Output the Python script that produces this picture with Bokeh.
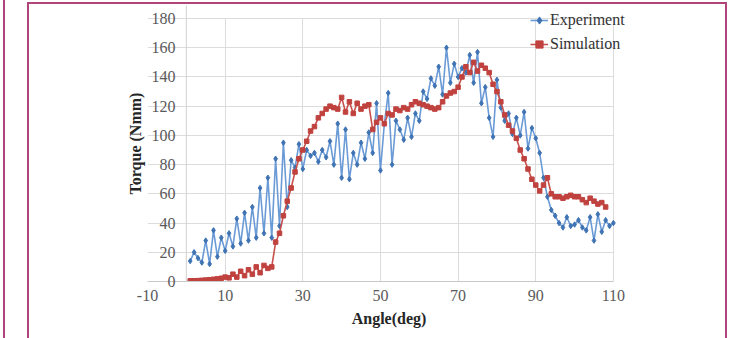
from bokeh.plotting import figure
from bokeh.models import (Range1d, FixedTicker, InlineStyleSheet, Span, Legend, LegendItem,
                          BoxAnnotation)
from bokeh.embed import file_html
from bokeh.resources import INLINE

# ---- data ----
exp_angle = [1, 2, 3, 4, 5, 6, 7, 8, 9, 10, 11, 12, 13, 14, 15, 16, 17, 18, 19, 20,
             21, 22, 23, 24, 25, 26, 27, 28, 29, 30, 31, 32, 33, 34, 35, 36, 37, 38, 39, 40,
             41, 42, 43, 44, 45, 46, 47, 48, 49, 50, 51, 52, 53, 54, 55, 56, 57, 58, 59, 60,
             61, 62, 63, 64, 65, 66, 67, 68, 69, 70, 71, 72, 73, 74, 75, 76, 77, 78, 79, 80,
             81, 82, 83, 84, 85, 86, 87, 88, 89, 90, 91, 92, 93, 94, 95, 96, 97, 98, 99, 100,
             101, 102, 103, 104, 105, 106, 107, 108, 109, 110]
exp_torque = [14, 20, 16, 13, 28, 12, 35, 17, 30, 21, 33, 24, 43, 26, 47, 28, 51, 30, 64, 33,
              71, 30, 84, 38, 95, 51, 83, 78, 94, 77, 90, 86, 88, 82, 90, 85, 96, 80, 108, 71,
              104, 70, 88, 80, 95, 84, 102, 88, 122, 76, 108, 129, 80, 110, 104, 97, 112, 99, 115, 110,
              130, 125, 139, 134, 147, 128, 160, 136, 149, 140, 146, 143, 155, 136, 157, 122, 133, 112, 99, 138,
              119, 110, 115, 101, 112, 100, 116, 91, 105, 98, 88, 71, 58, 49, 45, 40, 37, 44, 38, 39,
              42, 37, 35, 44, 28, 46, 34, 42, 38, 40]

sim_angle = [1, 2, 3, 4, 5, 6, 7, 8, 9, 10, 11, 12, 13, 14, 15, 16, 17, 18, 19, 20,
             21, 22, 23, 24, 25, 26, 27, 28, 29, 30, 31, 32, 33, 34, 35, 36, 37, 38, 39, 40,
             41, 42, 43, 44, 45, 46, 47, 48, 49, 50, 51, 52, 53, 54, 55, 56, 57, 58, 59, 60,
             61, 62, 63, 64, 65, 66, 67, 68, 69, 70, 71, 72, 73, 74, 75, 76, 77, 78, 79, 80,
             81, 82, 83, 84, 85, 86, 87, 88, 89, 90, 91, 92, 93, 94, 95, 96, 97, 98, 99, 100,
             101, 102, 103, 104, 105, 106, 107, 108]
sim_torque = [0.5, 0.5, 0.6, 0.8, 1.0, 1.2, 1.5, 1.8, 2.2, 3, 2.5, 5, 3, 7, 4, 8, 5, 10, 6, 11,
              9, 10, 27, 33, 45, 55, 64, 75, 84, 90, 96, 103, 106, 112, 115, 118, 120, 119, 118, 126,
              116, 123, 115, 122, 118, 120, 121, 104, 109, 112, 108, 115, 114, 118, 117, 119, 118, 121, 123, 122,
              121, 120, 119, 118, 119, 123, 127, 129, 130, 133, 140, 147, 143, 150, 144, 148, 146, 143, 135, 130,
              123, 114, 107, 103, 98, 90, 84, 77, 70, 66, 62, 66, 71, 60, 58, 58, 57, 58, 59, 58,
              58, 56, 54, 57, 55, 53, 54, 51]

x_ticks = [-10, 10, 30, 50, 70, 90, 110]
y_ticks = [0, 20, 40, 60, 80, 100, 120, 140, 160, 180]

SERIF = "Liberation Serif"
BLUE_LINE = "#6b9bd6"
BLUE_MARK = "#3f73b3"
RED_LINE = "#c8504c"
RED_MARK = "#c0423f"

css = InlineStyleSheet(css="""
:host { position: relative; }
:host::before { content: ''; position: absolute; left: 3px; top: 0px; width: 0px; height: 338px;
  border-left: 2px solid #b0457b; z-index: 10; pointer-events: none; }
:host::after { content: ''; position: absolute; left: 27px; top: 2px; width: 700px; height: 336px;
  border: 2px solid #b0457b; border-bottom: none; box-sizing: border-box; z-index: 10; pointer-events: none; }
""")

# the frame reaches a little past x = 110 and y = 180 so that the legend (which
# overhangs the plot area in the original) is not clipped; that strip is masked white
p = figure(width=734, height=338, output_backend="svg", toolbar_location=None,
           x_range=Range1d(-10, 114.4), y_range=Range1d(0, 188.9),
           min_border_left=147, min_border_right=104, min_border_top=5, min_border_bottom=57,
           background_fill_color="white", border_fill_color="white",
           stylesheets=[css])

p.outline_line_color = None

p.xaxis.ticker = FixedTicker(ticks=x_ticks)
p.yaxis.ticker = FixedTicker(ticks=y_ticks)
p.xgrid.ticker = FixedTicker(ticks=x_ticks)
p.ygrid.ticker = FixedTicker(ticks=y_ticks)
p.grid.grid_line_color = "#dcdcdc"
p.grid.grid_line_width = 1
p.xaxis.major_label_overrides = {-10: "-10"}
p.xaxis.bounds = (-10, 110)
p.yaxis.bounds = (0, 180)

for ax in (p.xaxis[0], p.yaxis[0]):
    ax.axis_line_color = "#c8c8c8"
    ax.major_tick_line_color = "#c8c8c8"
    ax.major_tick_out = 0
    ax.major_tick_in = 0
    ax.minor_tick_line_color = None
    ax.major_label_text_font = SERIF
    ax.major_label_text_font_size = "16px"
    ax.major_label_text_color = "#5a5a5a"
    ax.axis_label_text_font = SERIF
    ax.axis_label_text_font_size = "16px"
    ax.axis_label_text_font_style = "bold"
    ax.axis_label_text_color = "#262626"

# y axis labels sit inside the plot area, just left of x = 0
p.yaxis.axis_line_color = None
p.yaxis.major_tick_line_color = None
p.yaxis.major_label_standoff = -28
p.yaxis.axis_label_standoff = 5
p.add_layout(Span(location=0, dimension="height", line_color="#d0d0d0", line_width=1))

# mask grid lines beyond x = 110 and above y = 180
p.add_layout(BoxAnnotation(left=110.2, fill_color="white", fill_alpha=1.0,
                           line_color=None, level="underlay"))
p.add_layout(BoxAnnotation(bottom=180.3, fill_color="white", fill_alpha=1.0,
                           line_color=None, level="underlay"))

p.xaxis.axis_label = "Angle(deg)"
p.yaxis.axis_label = "Torque (Nmm)"
p.xaxis.major_label_standoff = 8
p.xaxis.axis_label_standoff = 6

r1 = p.line(exp_angle, exp_torque, line_color=BLUE_LINE, line_width=1.6)
s1 = p.scatter(exp_angle, exp_torque, marker="diamond", size=5.5, fill_color=BLUE_MARK,
               line_color=BLUE_MARK)
r2 = p.line(sim_angle, sim_torque, line_color=RED_LINE, line_width=1.6)
s2 = p.scatter(sim_angle, sim_torque, marker="square", size=4.5, fill_color=RED_MARK,
               line_color=RED_MARK)

lg = Legend(items=[LegendItem(label="Experiment", renderers=[r1, s1]),
                   LegendItem(label="Simulation", renderers=[r2, s2])],
            location=(383, 227))
lg.background_fill_alpha = 0
lg.border_line_color = None
lg.padding = 0
lg.margin = 0
lg.spacing = 4
lg.glyph_width = 18
lg.glyph_height = 20
lg.label_height = 20
lg.label_standoff = 2
lg.label_text_font = SERIF
lg.label_text_font_size = "16px"
lg.label_text_color = "#333333"
p.add_layout(lg, "center")

open("out.html", "w").write(file_html(p, INLINE))
